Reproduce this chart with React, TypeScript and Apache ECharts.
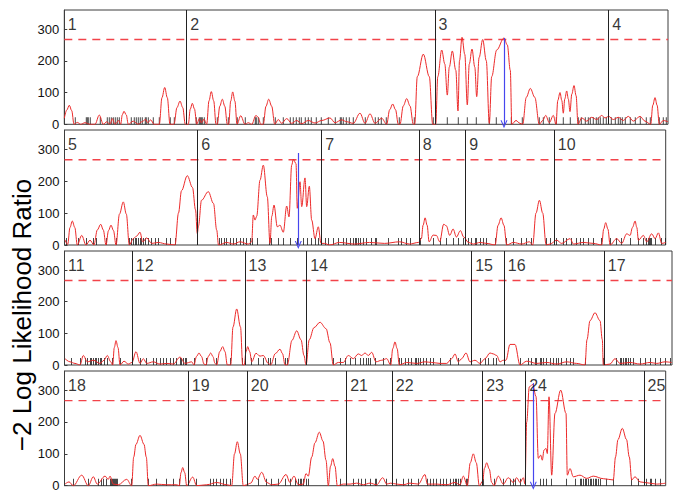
import React, { useEffect, useRef } from "react";
import * as echarts from "echarts";

const FONT = "'Liberation Sans', Arial, Helvetica, sans-serif";

// ---------- data ----------
const yAxisTitle = "\u22122 Log Likelihood Ratio";
const yMin = 0;
const yMax = 360;
const yInterval = 100;
const threshold = 267;

// chromosome names per row
const row1Chroms = ["1", "2", "3", "4"];
const row2Chroms = ["5", "6", "7", "8", "9", "10"];
const row3Chroms = ["11", "12", "13", "14", "15", "16", "17"];
const row4Chroms = ["18", "19", "20", "21", "22", "23", "24", "25"];

// chromosome boundaries along each row (map units)
const row1Bounds = [0, 122.4, 370.7, 544.4, 603.7];
const row2Bounds = [0, 133.2, 257.2, 354.8, 401.2, 489.8, 601.2];
const row3Bounds = [0, 67.8, 180.5, 242.2, 407.2, 439.8, 539.8, 607.5];
const row4Bounds = [0, 123.8, 182.8, 282.2, 327.8, 418.2, 461.2, 579.5, 601.2];

// test statistic profiles [position, value]
const row1Curve = [
  [0, 19], [2.5, 45], [5, 60], [7.4, 43], [9.7, 0], [13, 6], [16.4, 0], [20.7, 5], [25.7, 0], [30.7, 0],
  [35, 29], [39, 0], [42.4, 8], [45.7, 0], [48, 18], [50.7, 0], [54.4, 12], [56.4, 0], [58, 30], [59.7, 41],
  [61.9, 30], [64, 0], [69, 10], [74, 0], [77.4, 8], [81.4, 15], [83.4, 5], [86.4, 14], [89.7, 0], [95, 0],
  [97.7, 84], [100.4, 116], [103, 84], [105.7, 0], [109.7, 0], [112.7, 53], [115.7, 73], [118.4, 53], [121, 0],
  [124, 0], [126, 48], [128, 66], [130.2, 48], [132.4, 0], [135, 18], [137, 5], [139.7, 16], [142.4, 0],
  [144.7, 74], [147, 103], [149.4, 74], [151.7, 0], [153, 0], [155.5, 57], [158, 79], [160.5, 57], [163, 0],
  [164.4, 0], [166.4, 73], [168.4, 102], [170.6, 73], [172.7, 0], [176.4, 27], [180.7, 0], [184, 5],
  [187.4, 0], [191.7, 28], [194, 22], [196.4, 0], [199, 0], [201.7, 57], [204.4, 79], [207.4, 57], [210.4, 0],
  [214, 15], [217.4, 3], [222.4, 18], [227.4, 3], [232.4, 12], [237.4, 2], [244, 12], [250.7, 4], [257.4, 12],
  [265.7, 20], [270.7, 5], [277.4, 14], [282.4, 8], [289, 3], [295.7, 35], [300.7, 3], [305.7, 33],
  [310.7, 3], [317.4, 19], [322.4, 0], [325.4, 46], [328.4, 64], [331.2, 46], [334, 0], [335.7, 0],
  [339, 58], [342.4, 81], [345.7, 58], [349, 0], [350.4, 0], [353, 150], [359, 221], [365, 150], [368.4, 0],
  [371.4, 0], [373.5, 150], [377.4, 234], [380.5, 190], [383, 92], [385, 180], [388, 231], [391.5, 170],
  [393.7, 42], [395.2, 200], [397.7, 274], [400.5, 220], [403, 61], [405, 190], [407.7, 237], [410.5, 180],
  [412.4, 87], [414.8, 210], [418.4, 267], [422, 200], [425, 3], [427.4, 150], [432.4, 234], [439.7, 272],
  [443, 250], [446, 170], [447.5, 0], [451.7, 12], [455.7, 3], [458.4, 0], [462, 85], [466, 113],
  [470.5, 85], [475, 0], [478.4, 12], [481.4, 28], [485, 5], [489, 28], [491.7, 0], [493.5, 75], [495.7, 100],
  [497.5, 75], [499, 35], [500.5, 80], [502.4, 105], [504, 80], [505.7, 40], [507.5, 95], [509.7, 122],
  [511.8, 90], [513.7, 0], [517.4, 20], [522.4, 10], [527.4, 22], [532.4, 15], [537.4, 28], [540.7, 20],
  [544.4, 25], [549, 15], [554, 22], [559, 12], [564, 25], [569, 10], [575.7, 25], [580.7, 10], [586.4, 0],
  [588.5, 60], [590.7, 84], [592.8, 60], [595, 0], [599, 12], [603.7, 8],
];

const row2Curve = [
  [0.5, 16], [3.2, 2], [5.5, 55], [7.8, 75], [10.3, 55], [12.8, 0], [17.2, 30], [21.5, 0], [25.5, 15],
  [29.5, 0], [32.8, 47], [36.2, 65], [38.8, 47], [41.5, 0], [44, 45], [46.5, 62], [49, 45], [51.5, 0],
  [55, 97], [58.8, 135], [61.8, 97], [64.8, 0], [68.8, 20], [72.2, 28], [75.5, 40], [78.2, 10], [82.2, 22],
  [87.2, 5], [93.8, 8], [102.2, 3], [110.5, 0], [114, 100], [117, 170], [122.8, 217], [128, 180], [131, 110],
  [132.8, 36],
  [134, 60], [137, 140], [143.8, 167], [149, 130], [152.2, 47], [154, 0], [162, 8], [169, 3], [175.5, 10],
  [183.8, 3], [187.2, 10], [188.8, 94], [190.5, 78], [192.2, 90], [195.5, 203], [198.8, 250], [202.8, 151],
  [205.5, 5], [207.3, 90], [209.5, 125], [212.8, 57], [215.5, 62], [218.8, 40], [222.2, 122], [224.5, 88],
  [227.2, 250], [228.8, 268], [231.5, 255], [232.8, 115], [235.5, 198], [237.2, 120], [240.5, 210],
  [242.2, 120], [244.8, 184], [247.2, 78], [250.5, 20], [253.8, 57], [256.5, 5],
  [260, 5], [265, 0], [275, 8], [290, 3], [305, 8], [320, 5], [335, 10], [345, 3], [354, 8],
  [356.9, 20], [358.6, 62], [360.6, 85], [362.6, 62], [364.6, 10], [368.6, 31], [371.9, 30], [375.2, 10],
  [379.2, 65], [381.9, 60], [385.2, 30], [388.6, 50], [391.9, 25], [395.9, 45], [399.2, 25],
  [403.9, 8], [408.9, 3], [415.6, 8], [422.2, 5], [430.6, 0], [433.6, 62], [436.6, 85], [439.4, 62],
  [442.2, 0], [448.9, 8], [457.2, 3], [464.9, 10], [468.2, 0], [471.5, 100], [474.9, 140], [478.2, 100],
  [481.6, 0], [485.6, 3],
  [492.2, 15], [497.2, 5], [505.6, 20], [508.9, 3], [518.9, 8], [528.9, 5], [537.2, 0], [539.2, 50],
  [541.2, 70], [543.4, 50], [545.6, 0], [552.2, 20], [557.2, 5], [562.2, 35], [565.6, 30], [568, 55],
  [570.6, 75], [572.3, 55], [573.9, 15], [578.9, 30], [582.2, 10], [587.2, 35], [590.6, 20], [593.9, 38],
  [597.2, 5], [601.2, 8],
];

const row3Curve = [
  [0.5, 20], [5.5, 10], [10.5, 5], [15.5, 0], [18.8, 30], [22.8, 10], [28.8, 15], [35.5, 5], [39.5, 15],
  [42.8, 30], [46.2, 10], [48.2, 0], [49.8, 55], [51.5, 77], [53.5, 55], [55.5, 0], [59.5, 12], [63.8, 3],
  [67.5, 8],
  [71.5, 42], [75.5, 5], [78.8, 20], [82.2, 5], [88.8, 10], [95.5, 3], [102.2, 5], [108.8, 3], [115.5, 25],
  [120.5, 5], [127.2, 10], [129.5, 0], [132, 27], [134.5, 38], [137, 27], [139.5, 3], [141.5, 0],
  [143.8, 27], [146.2, 38], [148.4, 27], [150.5, 5], [152.2, 0], [155.2, 42], [158.2, 58], [160.5, 42],
  [162.8, 0], [166.2, 0], [168.5, 120], [172.2, 177], [176, 120], [178.2, 0], [179.8, 0],
  [181.5, 42], [183.2, 58], [185.2, 42], [187.2, 10], [191.5, 37], [195.5, 28], [198.8, 30], [203.8, 5],
  [206.2, 0], [210.8, 36], [215.5, 50], [218, 36], [220.5, 0], [222.8, 0], [227.5, 78], [232.2, 108],
  [236.5, 80], [239.5, 30], [241.5, 0],
  [244.8, 80], [249.5, 118], [255.5, 135], [261.5, 115], [265.5, 70], [268.8, 0], [273.8, 8], [278.8, 8],
  [283.8, 30], [288.8, 20], [293.8, 35], [297.2, 30], [300.5, 38], [303.8, 30], [307.2, 40], [311.5, 10],
  [317.2, 15], [322.2, 20], [326.2, 0], [328.3, 52], [330.5, 73], [332.6, 52], [334.8, 0], [342.2, 8],
  [352.2, 5], [360.5, 10], [367.2, 8], [375.5, 5], [382.2, 5], [387.2, 20], [390.5, 35], [393.8, 10],
  [397.2, 20], [401.5, 38], [405.5, 10],
  [410.5, 15], [415.5, 5], [420.5, 20], [425.5, 38], [428.8, 35], [432.2, 30], [435.5, 10], [438.8, 15],
  [441.5, 15], [445.5, 65], [450.5, 65], [455.5, 0], [462.2, 12], [472.2, 5], [482.2, 8], [492.2, 3],
  [502.2, 10], [512.2, 5], [520.5, 0], [522.5, 80], [525.5, 140], [530.5, 165], [535.5, 140], [537.8, 80],
  [538.8, 0],
  [545.5, 3], [550.5, 20], [555.5, 5], [565.5, 8], [575.5, 3], [585.5, 8], [592.2, 5], [600.5, 10],
  [607.2, 8],
];

const row4Curve = [
  [0.5, 5], [4.5, 12], [8.8, 0], [17.2, 33], [23.8, 0], [28.8, 28], [32.8, 5], [40.5, 30], [43.8, 20],
  [45.5, 30], [48.8, 5], [53.8, 3], [62.2, 20], [67.2, 0], [69.2, 90], [71.5, 130], [75.5, 158],
  [79.5, 130], [81.8, 90], [83.8, 0], [92.2, 5], [102.2, 3], [112.2, 3], [114.8, 0], [116.5, 41],
  [118.2, 57], [120.2, 41], [122.2, 0],
  [128.2, 27], [132.2, 0], [142.2, 3], [152.2, 10], [162.2, 3], [167.2, 0], [170, 100], [172.8, 138],
  [175.8, 100], [178.8, 0], [182.2, 3],
  [186.2, 8], [190.5, 30], [192.8, 20], [197.2, 42], [202.2, 10], [207.2, 3], [213.8, 5], [221.5, 35],
  [225.5, 10], [229.5, 30], [233.8, 3], [238.8, 5], [241.5, 38], [243.8, 30], [247.2, 90], [250.5, 135],
  [254.8, 168], [258.5, 140], [261.5, 80], [263.8, 0], [266, 61], [268.2, 85], [270.5, 61], [272.8, 0],
  [278.8, 5], [280.5, 5],
  [285.5, 5], [292.2, 8], [298.8, 3], [305.5, 8], [312.2, 3], [318.2, 25], [322.2, 5], [326.2, 8],
  [332.2, 5], [338.8, 3], [345.5, 8], [353.8, 5], [360.5, 35], [362.8, 5], [372.2, 5], [382.2, 3],
  [390.5, 10], [395.5, 3], [398.8, 30], [402.8, 0], [405.8, 72], [408.8, 100], [411.8, 72], [414.8, 0],
  [418.2, 15], [420, 55], [422.2, 72], [424.8, 52], [427.2, 10], [429.5, 0], [433.8, 30], [438.8, 5],
  [443.8, 25], [448.8, 10], [452.2, 25], [455.5, 10], [458.8, 25], [460.5, 5],
  [462.2, 200], [464.8, 310], [468.2, 318], [471.5, 280], [473.8, 86], [476.2, 96], [477.8, 80],
  [479.5, 112], [481.5, 117], [482.8, 101], [484.5, 279], [487.2, 33], [490.5, 227], [496.2, 300],
  [501.5, 227], [502.8, 33], [505.5, 54], [508.8, 28], [515.5, 33], [522.2, 23], [528.8, 30], [538.8, 22],
  [548.8, 18], [551, 90], [553.5, 145], [557.8, 180], [562, 145], [564.8, 90], [567.2, 18], [570.5, 28],
  [575.5, 12],
  [585, 8], [592, 5], [601.2, 8],
];

// marker positions (rug)
const row1Markers = [
  11, 22, 23, 24, 26, 36, 43, 45, 47, 49, 51, 53, 55, 67, 70, 72, 74, 76, 78, 81, 82, 84, 89, 95, 106, 110,
  132, 135, 136, 137, 138, 140, 153, 164, 173, 181, 191, 192, 194, 199, 211, 219, 226, 229, 232, 235, 237,
  241, 244, 247, 252, 257, 264, 271, 276, 277, 279, 282, 285, 289, 301, 311, 314, 317, 322, 335, 350, 369,
  383, 394, 403, 412, 425, 432, 447, 458, 475, 479, 485, 492, 499, 506, 514, 517, 521, 524, 526, 529, 532,
  534, 536, 539, 542, 547, 551, 554, 556, 558, 561, 566, 571, 576, 582, 586, 595, 599, 602,
];
const row2Markers = [
  2, 14, 22, 29, 32, 42, 52, 65, 67, 69, 71, 72, 74, 76, 77, 79, 81, 84, 87, 91, 94, 102, 106, 111,
  155, 157, 160, 162, 166, 169, 172, 176, 179, 182, 186, 188, 193, 205, 207, 214, 219, 226, 233, 239, 243,
  247, 251, 254,
  261, 264, 269, 274, 279, 282, 286, 289, 291, 292, 294, 296, 299, 302, 307, 311, 312, 324, 334, 337, 342,
  346, 356, 369, 376, 382, 389, 394, 399,
  404, 407, 411, 412, 416, 419, 422, 431, 442, 449, 457, 462, 467, 482, 486,
  492, 499, 502, 507, 512, 516, 519, 524, 529, 537, 546, 552, 557, 566, 574, 579, 582, 584, 585, 586, 587,
  591, 597, 601,
];
const row3Markers = [
  7, 16, 21, 23, 26, 27, 29, 31, 32, 34, 36, 37, 40, 43, 48, 56,
  76, 82, 89, 92, 96, 99, 102, 106, 109, 112, 116, 117, 119, 121, 122, 130, 142, 152, 166, 178,
  187, 194, 199, 204, 206, 211, 221, 223, 242,
  269, 276, 281, 286, 291, 296, 299, 302, 304, 306, 311, 319, 326, 335, 337, 341, 344, 347, 351, 352, 354,
  356, 359, 362, 366, 369, 376, 386, 394,
  416, 421, 424, 429, 432,
  456, 464, 467, 471, 472, 476, 477, 479, 482, 486, 489, 492, 494, 497, 502, 506, 509, 521,
  539, 552, 556, 557, 559, 561, 562, 564, 566, 569, 576, 581, 586, 591, 596, 601, 606,
];
const row4Markers = [
  9, 24, 34, 37, 39, 42, 46, 47, 48, 49, 50, 51, 52, 53, 67, 84, 92, 102, 109, 115,
  132, 146, 149, 152, 156, 159, 162, 166,
  194, 202, 207, 214, 221, 226, 231, 234, 236, 237, 239, 242, 244, 276,
  289, 294, 297, 301, 306, 311, 312, 322,
  332, 339, 344, 347, 354, 363, 366, 369, 372, 376, 379, 382, 386, 389, 391, 392, 394, 396, 402, 403,
  419, 430, 439, 446, 449, 451, 456,
  476, 479, 482, 487, 502, 511, 516, 517, 519, 521, 522, 524, 526, 527, 529, 531, 532, 534, 536, 542, 549,
  567, 574,
  582, 586, 587, 591, 596,
];

// peak arrows [position, top value]
const row1Arrow = [439.7, 272];
const row2Arrow = [233.8, 288];
const row4Arrow = [468.8, 322];

// ---------- layout ----------
const gridLefts = [64.3, 64.5, 64.5, 64.5];
const gridTops = [10, 130, 251, 371];
const gridHeights = [114.3, 115, 114, 114.7];

const rows = [
  { chroms: row1Chroms, bounds: row1Bounds, curve: row1Curve, markers: row1Markers, arrow: row1Arrow },
  { chroms: row2Chroms, bounds: row2Bounds, curve: row2Curve, markers: row2Markers, arrow: row2Arrow },
  { chroms: row3Chroms, bounds: row3Bounds, curve: row3Curve, markers: row3Markers, arrow: null },
  { chroms: row4Chroms, bounds: row4Bounds, curve: row4Curve, markers: row4Markers, arrow: row4Arrow },
];

const RED = "#ec2a2a";
const DASH_RED = "#f2434a";
const BLUE = "#4646ee";
const FRAME = "#3c3c3c";
const CHEVRON = "path://M5,0L10,8L8.4,8L5,2.6L1.6,8L0,8Z";

function buildOption() {
  const grid: any[] = [];
  const xAxis: any[] = [];
  const yAxis: any[] = [];
  const series: any[] = [];

  rows.forEach((r, i) => {
    const len = r.bounds[r.bounds.length - 1];
    grid.push({
      left: gridLefts[i],
      top: gridTops[i],
      width: len,
      height: gridHeights[i],
      show: true,
      borderColor: FRAME,
      borderWidth: 1,
      backgroundColor: "#fff",
    });
    xAxis.push({ type: "value", gridIndex: i, min: 0, max: len, show: false });
    yAxis.push({
      type: "value",
      gridIndex: i,
      min: yMin,
      max: yMax,
      interval: yInterval,
      axisLine: { show: true, lineStyle: { color: FRAME, width: 1 } },
      axisTick: { show: true, inside: true, length: 3, lineStyle: { color: FRAME } },
      axisLabel: {
        show: true,
        showMaxLabel: false,
        fontSize: 13,
        fontFamily: FONT,
        color: "#111",
        margin: 5,
      },
      splitLine: { show: false },
    });

    // rug of markers + chromosome separators
    series.push({
      type: "scatter",
      xAxisIndex: i,
      yAxisIndex: i,
      silent: true,
      data: r.markers.map((m) => [m, 0]),
      symbol: "rect",
      symbolSize: [1, 7],
      symbolOffset: [0, -3.5],
      itemStyle: { color: "#1a1a1a" },
      z: 2,
      markLine: {
        silent: true,
        symbol: ["none", "none"],
        label: { show: false },
        lineStyle: { color: "#222", width: 1, type: "solid" },
        data: r.bounds.slice(1, -1).map((b) => ({ xAxis: b })),
      },
    });

    // threshold (dashed) across the whole row
    series.push({
      type: "line",
      xAxisIndex: i,
      yAxisIndex: i,
      silent: true,
      data: [
        [0, threshold],
        [len, threshold],
      ],
      showSymbol: false,
      symbol: "none",
      lineStyle: { color: DASH_RED, width: 1.4, type: [8, 6] },
      itemStyle: { color: DASH_RED },
      z: 2,
    });

    // profile curve
    series.push({
      type: "line",
      xAxisIndex: i,
      yAxisIndex: i,
      silent: true,
      data: r.curve,
      showSymbol: false,
      symbol: "none",
      smooth: 0.35,
      smoothMonotone: "x",
      lineStyle: { color: RED, width: 1 },
      itemStyle: { color: RED },
      z: 3,
    });

    // peak arrow
    if (r.arrow) {
      series.push({
        type: "line",
        xAxisIndex: i,
        yAxisIndex: i,
        silent: true,
        data: [],
        z: 5,
        markLine: {
          silent: true,
          symbol: ["none", CHEVRON],
          symbolSize: [7, 8],
          label: { show: false },
          itemStyle: { color: BLUE },
          lineStyle: { color: BLUE, width: 1.2, type: "solid" },
          data: [[{ coord: [r.arrow[0], r.arrow[1]] }, { coord: [r.arrow[0], 0] }]],
        },
      });
    }

    // chromosome labels
    series.push({
      type: "scatter",
      xAxisIndex: i,
      yAxisIndex: i,
      silent: true,
      clip: false,
      symbolSize: 1,
      itemStyle: { color: "rgba(0,0,0,0)" },
      data: r.chroms.map((c, k) => ({ name: c, value: [r.bounds[k], yMax] })),
      label: {
        show: true,
        formatter: (p: any) => p.name,
        position: [4, 7],
        align: "left",
        verticalAlign: "top",
        fontSize: 16,
        fontFamily: FONT,
        color: "#000",
      },
      z: 6,
    });
  });

  return {
    animation: false,
    backgroundColor: "#fff",
    grid,
    xAxis,
    yAxis,
    series,
    graphic: [
      {
        type: "text",
        x: 22,
        y: 315,
        rotation: Math.PI / 2,
        style: {
          text: yAxisTitle,
          font: `26px ${FONT}`,
          fill: "#000",
          textAlign: "center",
          textVerticalAlign: "middle",
        },
      },
    ],
  };
}

export default function App() {
  const ref = useRef<HTMLDivElement>(null);
  useEffect(() => {
    if (!ref.current) return;
    const chart = echarts.init(ref.current, null, { renderer: "svg" });
    chart.setOption(buildOption() as any);
    return () => chart.dispose();
  }, []);
  return (
    <div
      ref={ref}
      style={{ position: "fixed", left: 0, top: 0, width: 685, height: 498, background: "#fff" }}
    />
  );
}
